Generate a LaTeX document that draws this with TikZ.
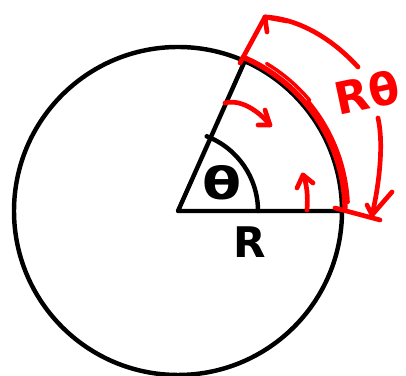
\documentclass[tikz,border=0pt]{standalone}
\usepackage{fontspec}
\setmainfont{DejaVu Sans}
\usetikzlibrary{calc}
\begin{document}
\begin{tikzpicture}[x=0.03cm,y=0.03cm,
  blk/.style={line width=3.8pt,black,line cap=round,line join=round},
  rd/.style={line width=4pt,red,line cap=round,line join=round},
  lbl/.style={inner sep=0pt,font=\bfseries\fontsize{36}{36}\selectfont}]
\useasboundingbox (0,0) rectangle (406,376);
% geometry
\coordinate (O) at (178,165);
\coordinate (P) at ($(178,165)+(66:165)$);
\coordinate (Q) at (343,165);
% circle and sector
\draw[blk] (O) circle (164);
\draw[blk] (Q) -- (O) -- (P);
\draw[blk] ($(O)+(0:80)$) arc (0:69:80);
\node[lbl] (theta) at (222,193) {\scalebox{1.35}[1.05]{θ}};
\node[lbl] (R) at (250,134) {R};
% red arc along the circle
\draw[rd,line width=4.5pt] ($(O)+(67:167)$) arc (67:1:167);
\draw[rd,line width=3pt] ($(O)+(59:172)$) arc (59:40:172);
\draw[rd,line width=3.5pt] ($(O)+(40:170)$) arc (40:3:170);
% ticks at arc ends
\coordinate (t1a) at (240,313);
\coordinate (t1b) at (265,359);
\coordinate (t2a) at (335,168);
\coordinate (t2b) at (380,156);
\draw[rd] (t1a) -- (t1b);
\draw[rd] (t2a) -- (t2b);
% top arrow
\coordinate (a1s) at (358,309);
\draw[rd] (a1s) .. controls (325,345) and (290,358) .. (t1b);
\draw[rd] (287,355) -- (t1b) -- (267,344);
% right arrow
\coordinate (a2s) at (378,258);
\coordinate (a2t) at (372,161);
\draw[rd] (a2s) .. controls (384,232) and (379,190) .. (a2t);
\draw[rd] (367,171) -- (a2t) -- (392,184);
% small arrow in sector
\coordinate (a3s) at (225,273);
\coordinate (a3t) at (270,251);
\draw[rd] (a3s) .. controls (240,277) and (258,266) .. (a3t);
\draw[rd] (265,266) -- (a3t) -- (258,251);
% small up arrow
\coordinate (a4s) at (307,166);
\coordinate (a4t) at (303,201);
\draw[rd] (a4s) .. controls (308,180) and (307,192) .. (a4t);
\draw[rd] (297,188) -- (a4t) -- (313,193);
% label R theta
\node[lbl,red,rotate=12,font=\bfseries\fontsize{38}{38}\selectfont] (Rt) at (367,284) {Rθ};
\end{tikzpicture}
\end{document}
